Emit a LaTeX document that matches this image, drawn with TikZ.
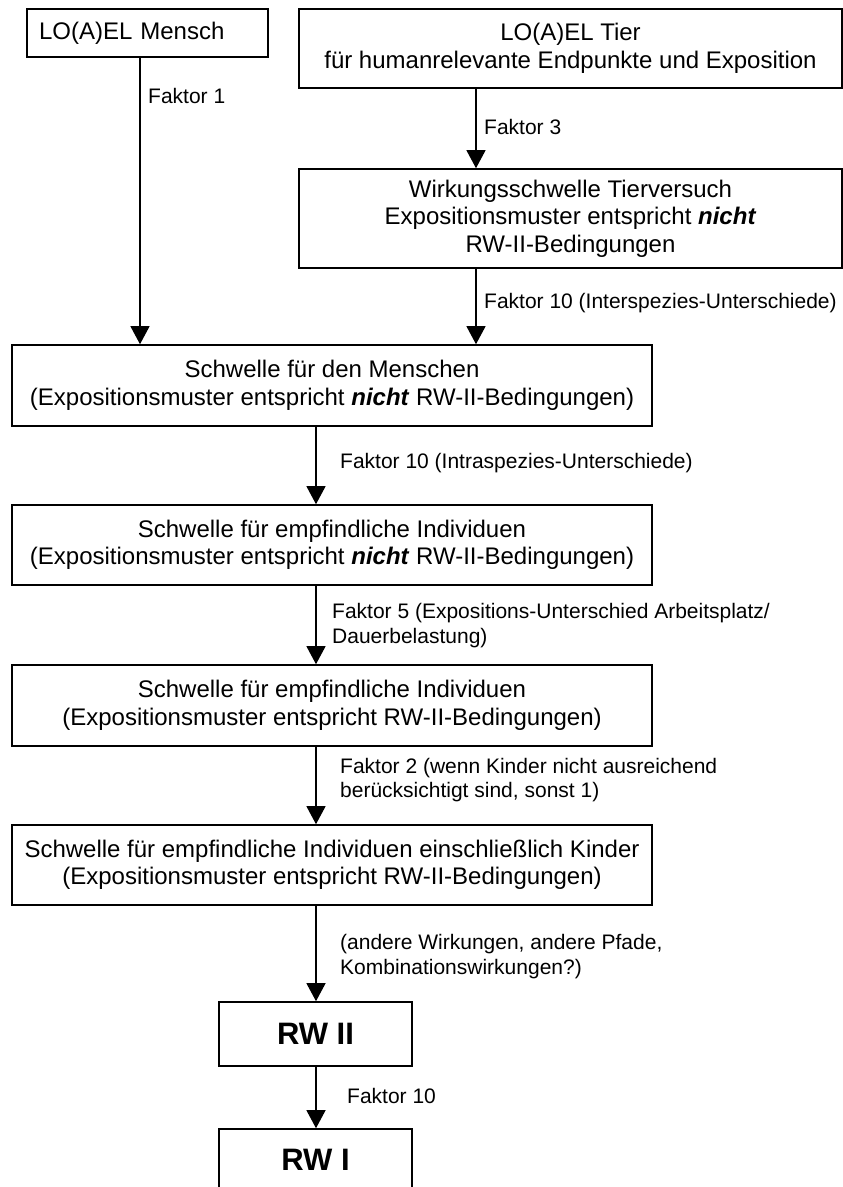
\documentclass[tikz,border=0pt]{standalone}
\usepackage{fontspec}
\setmainfont{Liberation Sans}
\usetikzlibrary{arrows.meta}
\tikzset{
  box/.style={draw, line width=1.6pt, inner sep=0pt, align=center,
    font=\fontsize{24}{27.5}\selectfont},
  bigbox/.style={box, font=\fontsize{31}{34}\selectfont\bfseries},
  lbl/.style={anchor=west, inner sep=0pt, align=left,
    font=\fontsize{21}{24.5}\selectfont},
  arr/.style={line width=1.2pt, -{Triangle[length=18pt,width=19pt]}},
}
\begin{document}
\begin{tikzpicture}[x=1pt,y=-1pt]
\useasboundingbox (0,0) rectangle (843,1187);
\clip (0,0) rectangle (843,1187);
% boxes
\node[box, align=left, inner xsep=12pt, text width=217pt, minimum height=48pt] (mensch) at (147.5,33) {LO(A)EL Mensch};
\node[box, minimum width=543pt, minimum height=79pt] (tier) at (570.5,48.5) {LO(A)EL Tier\\für humanrelevante Endpunkte und Exposition};
\node[box, minimum width=543pt, minimum height=99pt] (wirk) at (570.5,218.5) {Wirkungsschwelle Tierversuch\\Expositionsmuster entspricht \textbf{\textit{nicht}}\\RW-II-Bedingungen};
\node[box, minimum width=640pt, minimum height=81pt] (menschen) at (332,385.5) {Schwelle für den Menschen\\(Expositionsmuster entspricht \textbf{\textit{nicht}} RW-II-Bedingungen)};
\node[box, minimum width=640pt, minimum height=80pt] (empf1) at (332,545) {Schwelle für empfindliche Individuen\\(Expositionsmuster entspricht \textbf{\textit{nicht}} RW-II-Bedingungen)};
\node[box, minimum width=640pt, minimum height=81pt] (empf2) at (332,705.5) {Schwelle für empfindliche Individuen\\(Expositionsmuster entspricht RW-II-Bedingungen)};
\node[box, minimum width=640pt, minimum height=80pt] (kinder) at (332,865) {Schwelle für empfindliche Individuen einschließlich Kinder\\(Expositionsmuster entspricht RW-II-Bedingungen)};
\node[bigbox, minimum width=193pt, minimum height=64pt] (rw2) at (315.5,1034) {RW II};
\node[box, minimum width=193pt, minimum height=64pt] (rw1) at (315.5,1161) {};
\node[font=\fontsize{31}{34}\selectfont\bfseries] (rw1t) at (315.5,1160) {RW I};
% x positions of connectors
\coordinate (xa) at (140,0);
\coordinate (xb) at (476,0);
\coordinate (xc) at (316,0);
% connectors
\draw[arr] (mensch.south -| xa) -- (menschen.north -| xa);
\draw[arr] (tier.south -| xb) -- (wirk.north -| xb);
\draw[arr] (wirk.south -| xb) -- (menschen.north -| xb);
\draw[arr] (menschen.south -| xc) -- (empf1.north -| xc);
\draw[arr] (empf1.south -| xc) -- (empf2.north -| xc);
\draw[arr] (empf2.south -| xc) -- (kinder.north -| xc);
\draw[arr] (kinder.south -| xc) -- (rw2.north -| xc);
\draw[arr] (rw2.south -| xc) -- (rw1.north -| xc);
% labels
\node[lbl] (l1) at (148,96) {Faktor 1};
\node[lbl] (l2) at (484,127) {Faktor 3};
\node[lbl] (l3) at (484,303) {Faktor 10 (Interspezies-Unterschiede)};
\node[lbl] (l4) at (340,463) {Faktor 10 (Intraspezies-Unterschiede)};
\node[lbl] (l5) at (332,625.5) {Faktor 5 (Expositions-Unterschied Arbeitsplatz/\\Dauerbelastung)};
\node[lbl] (l6) at (340,780) {Faktor 2 (wenn Kinder nicht ausreichend\\berücksichtigt sind, sonst 1)};
\node[lbl] (l7) at (340,956.5) {(andere Wirkungen, andere Pfade,\\Kombinationswirkungen?)};
\node[lbl] (l8) at (347,1096) {Faktor 10};
\end{tikzpicture}
\end{document}
